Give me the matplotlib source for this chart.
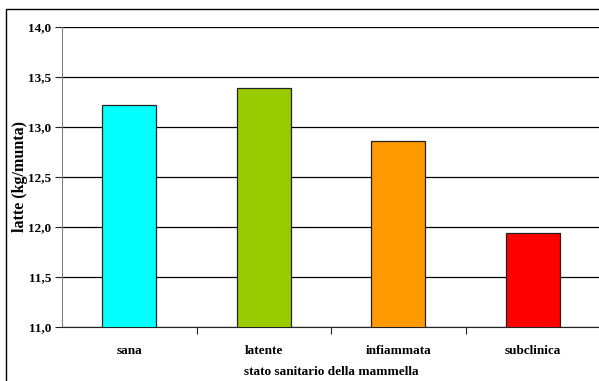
import matplotlib
matplotlib.use("Agg")
import matplotlib.pyplot as plt
from matplotlib.patches import Rectangle

# produzione di latte per stato sanitario della mammella
categorie = ["sana", "latente", "infiammata", "subclinica"]
latte = [13.22, 13.39, 12.86, 11.94]
colori = ["#00FFFF", "#99CC00", "#FF9900", "#FF0000"]
y_ticks = [11.0, 11.5, 12.0, 12.5, 13.0, 13.5, 14.0]

plt.rcParams["font.family"] = ["Liberation Serif", "DejaVu Serif"]
plt.rcParams["font.weight"] = "bold"

W, H = 599, 381
fig = plt.figure(figsize=(W / 100, H / 100), dpi=100)
fig.patch.set_facecolor("white")

# cornice esterna del grafico
fig.patches.append(Rectangle((6 / W, -0.05), 1.0, (H - 9) / H + 0.05,
                             transform=fig.transFigure, fill=False,
                             edgecolor="black", linewidth=1.0))

ax = fig.add_axes([62 / W, 54 / H, (W - 62) / W + 0.002, 300 / H])
x = range(len(categorie))
ax.bar(x, latte, width=0.4, color=colori, edgecolor="#222222",
       linewidth=0.9, zorder=3)

ax.set_ylim(11.0, 14.0)
ax.set_xlim(-0.5, len(categorie) - 0.5)
ax.set_yticks(y_ticks)
ax.set_yticklabels([f"{v:.1f}".replace(".", ",") for v in y_ticks],
                   fontsize=9.5, fontweight="bold")
ax.yaxis.grid(True, color="black", linewidth=0.9, zorder=1)

# etichette delle categorie al centro, tacche sui confini
ax.set_xticks([i - 0.5 for i in range(1, len(categorie))], minor=False)
ax.set_xticklabels([])
ax.set_xticks(list(x), minor=True)
ax.set_xticklabels(categorie, minor=True, fontsize=9.5, fontweight="bold")
ax.tick_params(axis="x", which="minor", length=0, pad=13)
ax.tick_params(axis="x", which="major", length=5, width=0.8, color="#222222")
ax.tick_params(axis="y", length=5, width=0.8, color="#222222", pad=3)

for s in ["top", "right"]:
    ax.spines[s].set_visible(False)
ax.spines["left"].set_color("#808080")
ax.spines["bottom"].set_color("#222222")

ax.set_ylabel("latte (kg/munta)", fontsize=11.5, fontweight="bold")
ax.yaxis.set_label_coords((20 - 62) / (W - 62), 0.5)
ax.set_xlabel("stato sanitario della mammella", fontsize=9.5,
              fontweight="bold")
ax.xaxis.set_label_coords(0.5, -(372 - 327) / 300)
ax.xaxis.label.set_va("center")
ax.yaxis.label.set_va("center")

fig.savefig("out.png", dpi=100)
